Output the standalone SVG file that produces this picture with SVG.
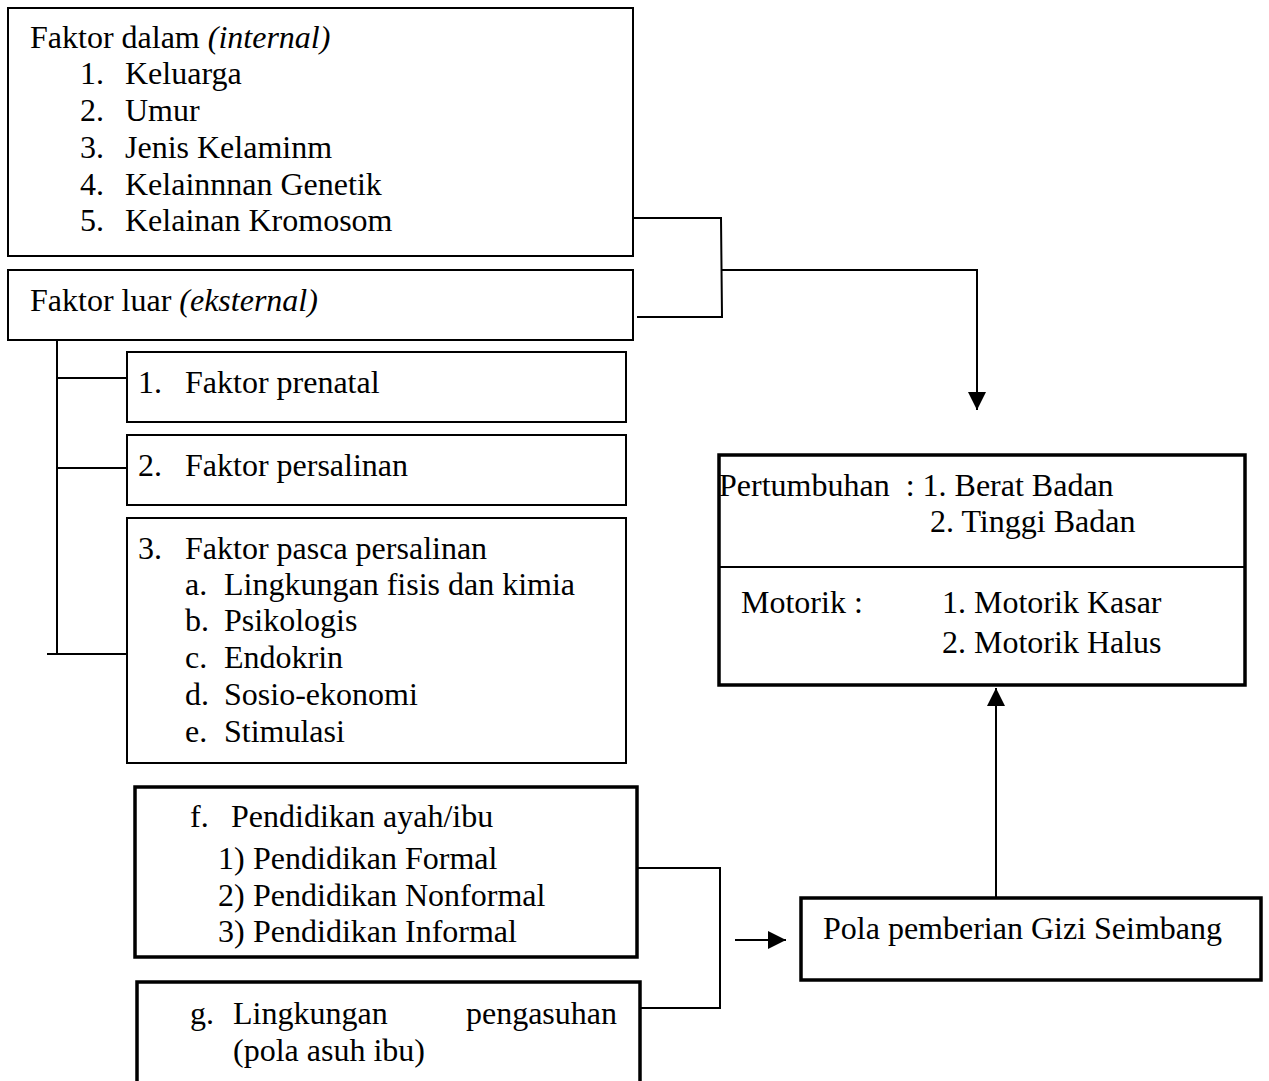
<svg xmlns="http://www.w3.org/2000/svg" width="1269" height="1081" viewBox="0 0 1269 1081">
<style>
text{font-family:"Liberation Serif","Times New Roman",serif;font-size:32px;fill:#000}
.it{font-style:italic}
.thin{fill:#fff;stroke:#000;stroke-width:2}
.thick{fill:#fff;stroke:#000;stroke-width:3.5}
.ln{fill:none;stroke:#000;stroke-width:2}
</style>
<defs>
<marker id="ah" markerUnits="userSpaceOnUse" markerWidth="18" markerHeight="18" viewBox="0 0 16 16" refX="16" refY="8" orient="auto">
<path d="M0,0 L16,8 L0,16 Z" fill="#000"/>
</marker>
</defs>
<rect width="1269" height="1081" fill="#fff"/>
<g id="connectors">
<polyline class="ln" points="633,218 721,218 722,317 637,317"/>
<polyline class="ln" points="722,270 977,270 977,410" marker-end="url(#ah)"/>
<polyline class="ln" points="57,340 57,655"/>
<line class="ln" x1="57" y1="378" x2="127" y2="378"/>
<line class="ln" x1="57" y1="468" x2="127" y2="468"/>
<line class="ln" x1="47" y1="654" x2="127" y2="654"/>
<polyline class="ln" points="637,868 720,868 720,1008 637,1008"/>
<line class="ln" x1="735" y1="940" x2="786" y2="940" marker-end="url(#ah)"/>
<line class="ln" x1="996" y1="897" x2="996" y2="688" marker-end="url(#ah)"/>
</g>
<g id="faktor-dalam">
<rect class="thin" x="8" y="8" width="625" height="248"/>
<text x="30" y="48">Faktor dalam <tspan class="it">(internal)</tspan></text>
<text x="80" y="84">1.</text><text x="125" y="84">Keluarga</text>
<text x="80" y="121">2.</text><text x="125" y="121">Umur</text>
<text x="80" y="158">3.</text><text x="125" y="158">Jenis Kelaminm</text>
<text x="80" y="195">4.</text><text x="125" y="195">Kelainnnan Genetik</text>
<text x="80" y="231">5.</text><text x="125" y="231">Kelainan Kromosom</text>
</g>
<g id="faktor-luar">
<rect class="thin" x="8" y="270" width="625" height="70"/>
<text x="30" y="311">Faktor luar <tspan class="it">(eksternal)</tspan></text>
</g>
<g id="prenatal">
<rect class="thin" x="127" y="352" width="499" height="70"/>
<text x="138" y="393">1.</text><text x="185" y="393">Faktor prenatal</text>
</g>
<g id="persalinan">
<rect class="thin" x="127" y="435" width="499" height="70"/>
<text x="138" y="476">2.</text><text x="185" y="476">Faktor persalinan</text>
</g>
<g id="pasca">
<rect class="thin" x="127" y="518" width="499" height="245"/>
<text x="138" y="559">3.</text><text x="185" y="559">Faktor pasca persalinan</text>
<text x="185" y="595">a.</text><text x="224" y="595">Lingkungan fisis dan kimia</text>
<text x="185" y="631">b.</text><text x="224" y="631">Psikologis</text>
<text x="185" y="668">c.</text><text x="224" y="668">Endokrin</text>
<text x="185" y="705">d.</text><text x="224" y="705">Sosio-ekonomi</text>
<text x="185" y="742">e.</text><text x="224" y="742">Stimulasi</text>
</g>
<g id="pertumbuhan">
<rect class="thick" x="719" y="455" width="526" height="230"/>
<line x1="719" y1="567" x2="1245" y2="567" stroke="#000" stroke-width="2"/>
<text x="719" y="496" xml:space="preserve">Pertumbuhan  : 1. Berat Badan</text>
<text x="930" y="532">2. Tinggi Badan</text>
<text x="741" y="613">Motorik :</text>
<text x="942" y="613">1. Motorik Kasar</text>
<text x="942" y="653">2. Motorik Halus</text>
</g>
<g id="pola">
<rect class="thick" x="801" y="898" width="460" height="82"/>
<text x="823" y="939">Pola pemberian Gizi Seimbang</text>
</g>
<g id="pendidikan">
<rect class="thick" x="135" y="787" width="502" height="170"/>
<text x="190" y="827">f.</text><text x="231" y="827">Pendidikan ayah/ibu</text>
<text x="218" y="869">1)</text><text x="253" y="869">Pendidikan Formal</text>
<text x="218" y="906">2)</text><text x="253" y="906">Pendidikan Nonformal</text>
<text x="218" y="942">3)</text><text x="253" y="942">Pendidikan Informal</text>
</g>
<g id="pengasuhan">
<rect class="thick" x="137" y="982" width="503" height="120"/>
<text x="190" y="1024">g.</text><text x="233" y="1024">Lingkungan</text><text x="617" y="1024" text-anchor="end">pengasuhan</text>
<text x="233" y="1061">(pola asuh ibu)</text>
</g>
</svg>
